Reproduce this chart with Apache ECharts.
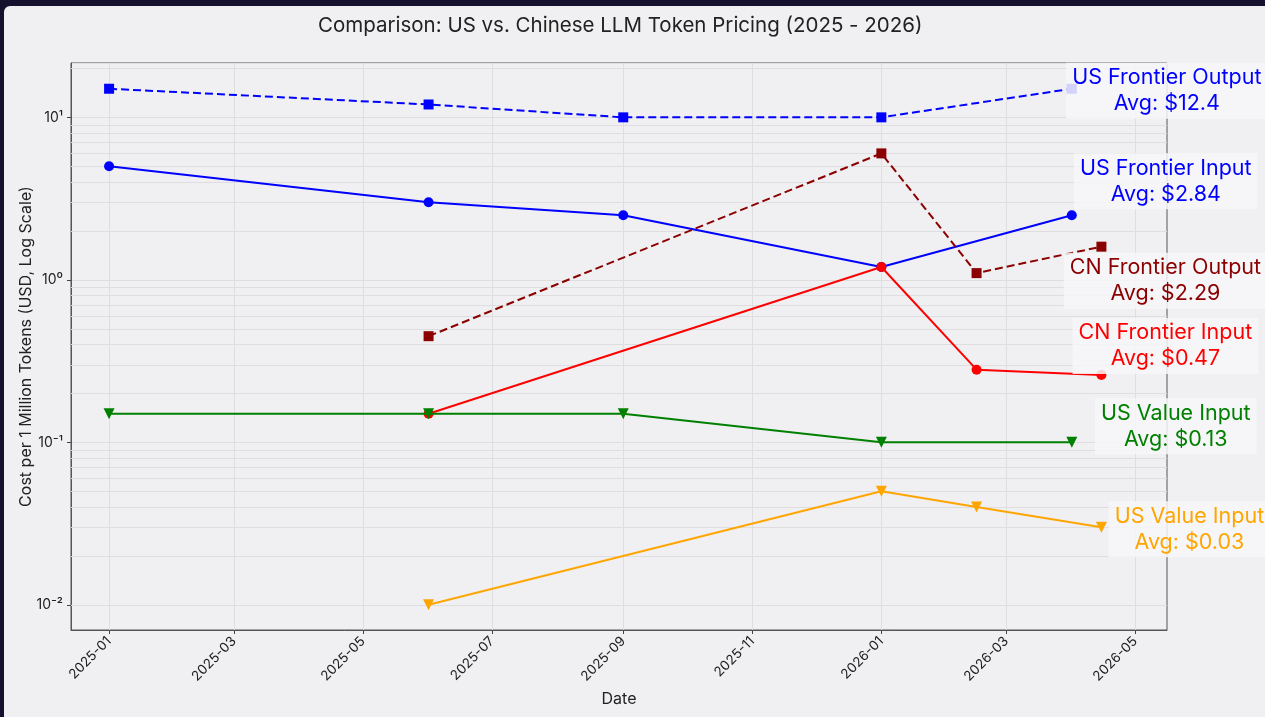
<!DOCTYPE html>
<html><head><meta charset="utf-8">
<script src="https://cdn.jsdelivr.net/npm/echarts@6/dist/echarts.min.js"></script>
<style>
html,body{margin:0;padding:0;width:1265px;height:717px;overflow:hidden;background:#14102e;}
#c{position:absolute;left:4px;top:6px;width:1261px;height:711px;background:#f0f0f2;border-top-left-radius:6px;}
</style></head><body><div id="c"></div>
<script>
// ---- data ----
const usDates = ['2025-01-01', '2025-06-01', '2025-09-01', '2026-01-01', '2026-04-01'];
const cnDates = ['2025-06-01', '2026-01-01', '2026-02-15', '2026-04-15'];

const usFrontierOutput = [15, 12, 10, 10, 15];
const usFrontierInput = [5, 3, 2.5, 1.2, 2.5];
const cnFrontierOutput = [0.45, 6, 1.1, 1.6];
const cnFrontierInput = [0.15, 1.2, 0.28, 0.26];
const usValueInput = [0.15, 0.15, 0.15, 0.10, 0.10];
const valueInput2 = [0.01, 0.05, 0.04, 0.03];

const seriesNames = ['US Frontier Output', 'US Frontier Input', 'CN Frontier Output', 'CN Frontier Input', 'US Value Input', 'US Value Input'];
const avgLabels = ['$12.4', '$2.84', '$2.29', '$0.47', '$0.13', '$0.03'];

const xTickLabels = ['2025-01', '2025-03', '2025-05', '2025-07', '2025-09', '2025-11', '2026-01', '2026-03', '2026-05'];
const yTickLabels = { '-2': '10⁻²', '-1': '10⁻¹', '0': '10⁰', '1': '10¹' };

// ---- helpers ----
function ts(s) { const p = s.split('-').map(Number); return Date.UTC(p[0], p[1] - 1, p[2] || 1); }
const FONT = 'Inter, "Open Sans", sans-serif';
const xTickValues = xTickLabels.map(l => ts(l));
const minorGrid = [];
for (let k = -3; k <= 1; k++) for (let m = 2; m <= 9; m++) {
  const v = m * Math.pow(10, k);
  if (v > 0.0071 && v < 21.5) minorGrid.push({ yAxis: v });
}

function mk(idx, dates, vals, color, dashed, symbol, rotate, size, offset) {
  const data = dates.map((d, i) => [ts(d), vals[i]]);
  const last = data.length - 1;
  data[last] = {
    value: data[last],
    label: {
      show: true, position: 'inside', offset: offset, align: 'center', verticalAlign: 'middle',
      formatter: seriesNames[idx] + '\nAvg: ' + avgLabels[idx],
      color: color, fontSize: 21.5, lineHeight: 26, fontFamily: FONT,
      backgroundColor: 'rgba(247,247,249,0.85)', padding: [2, 6]
    }
  };
  return {
    type: 'line', name: seriesNames[idx], data: data, z: 3 + idx,
    symbol: symbol, symbolSize: size, symbolRotate: rotate, showAllSymbol: true,
    itemStyle: { color: color },
    lineStyle: { color: color, width: 2, type: dashed ? [8, 4] : 'solid' },
    emphasis: { disabled: true }, silent: true
  };
}

const chart = echarts.init(document.getElementById('c'), null, { renderer: 'canvas' });
chart.setOption({
  animation: false,
  title: {
    text: 'Comparison: US vs. Chinese LLM Token Pricing (2025 - 2026)',
    left: 314, top: 9, padding: 0,
    textStyle: { fontSize: 20.5, fontWeight: 'normal', color: '#222', fontFamily: FONT }
  },
  grid: { left: 67, right: 98, top: 57, bottom: 87, outerBoundsMode: 'none', containLabel: false,
    show: true, borderColor: '#555', borderWidth: 1, backgroundColor: 'transparent' },
  xAxis: {
    type: 'value', min: ts('2024-12-14'), max: ts('2026-05-16'),
    name: 'Date', nameLocation: 'middle', nameGap: 61, nameMoveOverlap: false,
    nameTextStyle: { fontSize: 16, color: '#222', fontFamily: FONT },
    axisLine: { show: true, lineStyle: { color: '#555', width: 1 } },
    axisTick: { show: true, length: 4, customValues: xTickValues, lineStyle: { color: '#444' } },
    axisLabel: {
      customValues: xTickValues, rotate: 45, fontSize: 13.5, color: '#222', fontFamily: FONT, margin: 9,
      formatter: (v) => { const d = new Date(v); return d.getUTCFullYear() + '-' + String(d.getUTCMonth() + 1).padStart(2, '0'); }
    },
    splitLine: { show: true, lineStyle: { color: '#dedee0', width: 1 } }
  },
  yAxis: {
    type: 'log', logBase: 10, min: 0.007, max: 21.6,
    name: 'Cost per 1 Million Tokens (USD, Log Scale)', nameLocation: 'middle', nameGap: 37, nameMoveOverlap: false,
    nameTextStyle: { fontSize: 16, color: '#222', fontFamily: FONT },
    axisLine: { show: true, lineStyle: { color: '#555', width: 1 } },
    axisTick: { show: true, length: 4, lineStyle: { color: '#444' } },
    axisLabel: {
      fontSize: 14, color: '#222', fontFamily: FONT, margin: 8, showMinLabel: false, showMaxLabel: false,
      formatter: (v) => { const e = Math.round(Math.log10(v)); return Math.abs(Math.log10(v) - e) < 1e-6 ? (yTickLabels[String(e)] || '') : ''; }
    },
    splitLine: { show: true, lineStyle: { color: '#dedee0', width: 1 } }
  },
  series: [
    {
      type: 'line', data: [], z: 1, silent: true,
      markLine: { z: 1, silent: true, symbol: 'none', label: { show: false }, animation: false,
        lineStyle: { color: '#dedee0', width: 1, type: 'solid' }, data: minorGrid }
    },
    mk(0, usDates, usFrontierOutput, '#0000ff', true, 'rect', 0, 10, [95, 2]),
    mk(1, usDates, usFrontierInput, '#0000ff', false, 'circle', 0, 10, [94, -34]),
    mk(2, cnDates, cnFrontierOutput, '#8b0000', true, 'rect', 0, 10, [64, 34]),
    mk(3, cnDates, cnFrontierInput, '#ff0000', false, 'circle', 0, 10, [64, -29]),
    mk(4, usDates, usValueInput, '#008000', false, 'triangle', 180, 11, [104, -16]),
    mk(5, cnDates, valueInput2, '#ffa500', false, 'triangle', 180, 11, [88, 2])
  ]
});
</script></body></html>
